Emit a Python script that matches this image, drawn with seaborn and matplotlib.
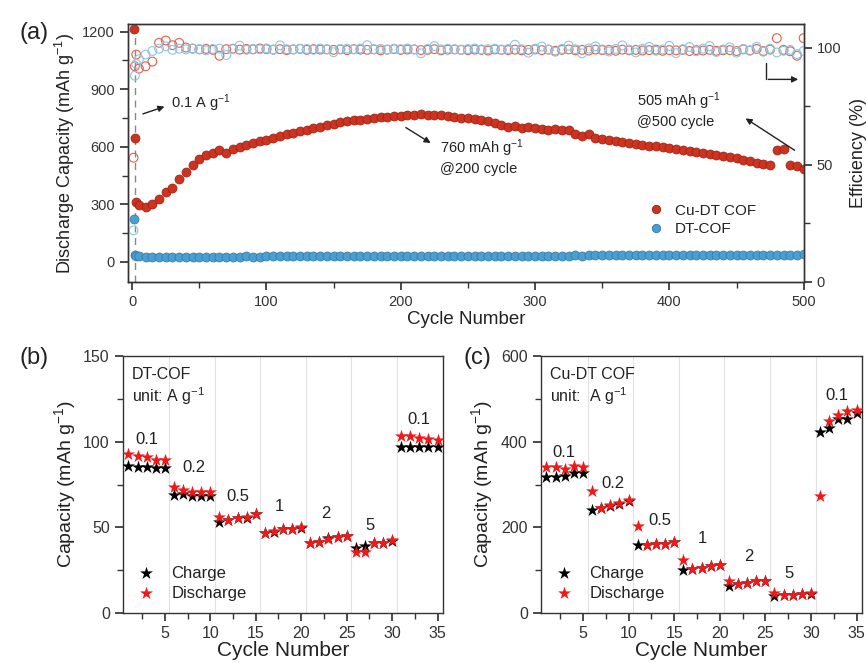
import numpy as np
import matplotlib
matplotlib.use("Agg")
import matplotlib.pyplot as plt
from matplotlib.lines import Line2D
from matplotlib.ticker import MultipleLocator
import pandas as pd
import seaborn as sns

sns.set_theme(style="ticks")
plt.rcParams['font.family'] = ['Liberation Sans', 'DejaVu Sans']
plt.rcParams['mathtext.fontset'] = 'custom'
plt.rcParams['mathtext.rm'] = 'Liberation Sans'
plt.rcParams['mathtext.it'] = 'Liberation Sans:italic'
plt.rcParams['axes.edgecolor'] = '#333333'
plt.rcParams['text.color'] = '#222222'
plt.rcParams['axes.labelcolor'] = '#222222'
plt.rcParams['xtick.color'] = '#333333'
plt.rcParams['ytick.color'] = '#333333'

# ---- panel (a): long cycling at 0.1 A/g ----
cycles = [1, 2, 3] + list(range(5, 501, 5))

cap_cu = [1215, 645, 310,
          295, 285, 300, 330, 365, 385, 430, 470, 505, 535,
          555, 570, 585, 565, 590, 600, 610, 620, 630, 638,
          648, 658, 665, 673, 680, 690, 697, 705, 712, 720,
          727, 733, 738, 742, 746, 750, 753, 757, 760, 762,
          765, 768, 770, 768, 766, 764, 760, 756, 752, 748,
          744, 738, 732, 722, 712, 705, 706, 700, 702, 698,
          695, 690, 692, 688, 685, 665, 655, 668, 648, 640,
          636, 630, 625, 620, 615, 610, 606, 602, 598, 594,
          590, 584, 578, 572, 566, 562, 556, 550, 546, 540,
          532, 524, 516, 512, 506, 585, 590, 505, 500, 485]

cap_dt = [225, 35, 30,
          28, 27, 27, 27, 26, 27, 27, 26, 27, 27,
          27, 27, 27, 27, 27, 27, 28, 27, 27, 28,
          28, 28, 28, 28, 28, 28, 28, 29, 28, 29,
          29, 29, 29, 29, 29, 30, 29, 30, 30, 30,
          30, 30, 30, 31, 30, 31, 31, 31, 31, 31,
          31, 32, 31, 32, 32, 32, 32, 32, 33, 32,
          33, 33, 33, 33, 33, 34, 33, 34, 34, 34,
          34, 34, 35, 34, 35, 35, 35, 35, 35, 36,
          36, 36, 36, 36, 36, 37, 36, 37, 37, 37,
          37, 37, 37, 38, 38, 38, 38, 38, 38, 39]

eff_cu = [53, 92, 97,
          91, 92, 94, 102, 103, 101, 102, 100, 99.5, 99.2,
          99.4, 99.0, 96.5, 99.3, 99.5, 99.1, 99.4, 99.2, 99.6, 99.3,
          99.1, 99.3, 98.9, 99.2, 99.4, 99.0, 99.3, 99.1, 99.2, 99.0,
          99.2, 98.9, 99.3, 99.1, 99.0, 99.2, 98.8, 99.1, 99.3, 99.0,
          99.1, 99.2, 98.9, 99.0, 99.3, 98.8, 99.1, 99.2, 99.0, 98.9,
          99.1, 99.0, 98.7, 99.2, 99.0, 98.9, 99.1, 98.8, 99.0, 99.2,
          98.9, 99.1, 98.6, 99.0, 99.2, 98.8, 99.0, 98.7, 99.1, 98.9,
          99.0, 98.6, 99.1, 98.8, 99.0, 98.7, 98.9, 99.1, 98.6, 98.9,
          98.8, 99.0, 98.5, 98.9, 98.7, 99.0, 98.6, 98.8, 98.9, 98.5,
          99.2, 98.8, 99.4, 98.5, 99.1, 104, 99.0, 98.4, 96.5, 104]

eff_dt = [22, 88, 93,
          95, 97, 98.5, 99.5, 100.5, 99.0, 99.5, 99.2, 99.6, 99.3,
          98.8, 99.4, 99.5, 96.8, 99.3, 100.8, 99.0, 99.4, 99.2, 99.6,
          99.1, 100.9, 99.3, 99.2, 99.5, 99.4, 99.0, 99.6, 99.3, 98.0,
          99.4, 99.5, 99.2, 99.6, 101.0, 99.3, 99.4, 99.1, 99.5, 99.3,
          99.6, 99.2, 97.5, 99.4, 100.6, 99.2, 99.5, 99.3, 99.1, 99.4,
          99.6, 99.2, 99.3, 99.5, 99.1, 99.4, 101.2, 99.3, 97.8, 99.5,
          100.4, 99.1, 98.2, 99.4, 100.8, 99.3, 97.5, 99.6, 100.5, 99.2,
          98.3, 99.4, 100.9, 99.1, 97.9, 99.5, 100.3, 98.6, 99.2, 100.7,
          97.6, 99.3, 100.2, 98.4, 99.5, 100.6, 98.1, 99.2, 100.1, 97.8,
          99.4, 98.6, 100.3, 98.2, 99.5, 97.9, 98.6, 99.0, 97.2, 98.5]

# ---- panels (b), (c): rate performance ----
rate_cycles = list(range(1, 36))
rate_labels = ['0.1', '0.2', '0.5', '1', '2', '5', '0.1']

dt_charge = [85.8, 85.4, 85.4, 84.4, 84.4,
             68.9, 69.3, 68.5, 68.5, 68.5,
             53.4, 54.3, 55.3, 55.7, 57.6,
             46.6, 47.5, 48.9, 48.9, 49.9,
             40.7, 41.7, 43.7, 44.2, 45.0,
             37.8, 39.2, 40.7, 41.1, 42.3,
             96.8, 96.8, 96.8, 96.8, 96.8]
dt_discharge = [93.1, 91.8, 91.2, 89.6, 89.6,
                73.7, 71.8, 70.4, 70.4, 70.4,
                55.9, 54.3, 55.7, 55.9, 57.8,
                46.6, 48.1, 49.1, 49.1, 50.1,
                40.7, 41.7, 43.1, 44.2, 45.0,
                35.9, 35.9, 40.7, 41.1, 42.7,
                103.4, 103.4, 102.4, 101.5, 100.9]

cu_charge = [318, 318, 321, 328, 328,
             241, 245, 250, 254, 262,
             158, 159, 161, 161, 165,
             101, 103, 106, 109, 111,
             64, 68, 70, 74, 74,
             40, 41, 43, 45, 45,
             423, 431, 454, 454, 467]
cu_discharge = [342, 342, 336, 344, 342,
                285, 245, 252, 256, 264,
                202, 159, 161, 161, 165,
                123, 103, 106, 109, 113,
                75, 68, 70, 74, 74,
                47, 43, 43, 45, 47,
                274, 448, 462, 471, 475]

df_a = pd.DataFrame({'cycle': cycles, 'cap_cu': cap_cu, 'cap_dt': cap_dt,
                     'eff_cu': eff_cu, 'eff_dt': eff_dt})

red_f, red_e = '#CC3320', '#9A200E'
blue_f, blue_e = '#4A9ED0', '#2F78A8'
red_o, blue_o = '#E2604E', '#8CC6E4'

fig = plt.figure(figsize=(8.66, 6.63), dpi=100)
ax_a = fig.add_axes([0.148, 0.5747, 0.780, 0.389])
ax_b = fig.add_axes([0.142, 0.0754, 0.3695, 0.3876])
ax_c = fig.add_axes([0.6247, 0.0754, 0.3707, 0.3876])

# panel (a)
ax_a.axvline(2.3, color='#888888', lw=1, ls=(0, (5, 4)), zorder=1)
sns.scatterplot(data=df_a, x='cycle', y='cap_cu', ax=ax_a, color=red_f,
                edgecolor=red_e, linewidth=0.5, s=42, zorder=3)
sns.scatterplot(data=df_a, x='cycle', y='cap_dt', ax=ax_a, color=blue_f,
                edgecolor=blue_e, linewidth=0.5, s=42, zorder=3)
ax_a.set_xlim(-3, 500)
ax_a.set_ylim(-105, 1240)
ax_a.set_yticks([0, 300, 600, 900, 1200])
ax_a.yaxis.set_minor_locator(MultipleLocator(150))
ax_a.set_xticks([0, 100, 200, 300, 400, 500])
ax_a.xaxis.set_minor_locator(MultipleLocator(50))
ax_a.set_xlabel('Cycle Number', fontsize=13.5, labelpad=1)
ax_a.set_ylabel('Discharge Capacity (mAh g$^{-1}$)', fontsize=13, labelpad=4)
ax_a.tick_params(labelsize=10.5)

ax_e = ax_a.twinx()
sns.scatterplot(data=df_a, x='cycle', y='eff_cu', ax=ax_e, color=red_o,
                edgecolor=red_o, linewidth=0.8, s=40)
ax_e.collections[-1].set_facecolor('none')
sns.scatterplot(data=df_a, x='cycle', y='eff_dt', ax=ax_e, color=blue_o,
                edgecolor=blue_o, linewidth=0.8, s=40)
ax_e.collections[-1].set_facecolor('none')
ax_e.set_ylim(0, 110)
ax_e.set_yticks([0, 50, 100])
ax_e.yaxis.set_minor_locator(MultipleLocator(25))
ax_e.set_ylabel('Efficiency (%)', fontsize=13, labelpad=6)
ax_e.tick_params(labelsize=10.5)
ax_e.set_xlim(-3, 500)

arrow_kw = dict(arrowstyle='-|>', color='#222222', lw=1, mutation_scale=9)
ax_a.annotate('', xy=(26, 814), xytext=(6, 767), arrowprops=arrow_kw)
ax_a.text(29, 828, '0.1 A g$^{-1}$', fontsize=10.5, va='center')
ax_a.annotate('', xy=(224, 612), xytext=(202, 708), arrowprops=arrow_kw)
ax_a.text(229, 548, '760 mAh g$^{-1}$\n@200 cycle', fontsize=10.5,
          va='center', linespacing=1.25)
ax_a.annotate('', xy=(455, 756), xytext=(495, 574), arrowprops=arrow_kw)
ax_a.text(376, 793, '505 mAh g$^{-1}$\n@500 cycle', fontsize=10.5,
          va='center', linespacing=1.25)
ax_e.plot([472, 472], [93.6, 86.4], color='#222222', lw=1)
ax_e.annotate('', xy=(498, 86.4), xytext=(471.6, 86.4), arrowprops=arrow_kw)

leg_a = [Line2D([], [], marker='o', ls='', ms=6, mfc=red_f, mec=red_e, mew=0.6,
                label='Cu-DT COF'),
         Line2D([], [], marker='o', ls='', ms=6, mfc=blue_f, mec=blue_e, mew=0.6,
                label='DT-COF')]
ax_a.legend(handles=leg_a, loc='center left', bbox_to_anchor=(0.748, 0.24),
            frameon=False, fontsize=11, handletextpad=0.6, handlelength=1.2,
            labelspacing=0.3)

# panels (b) and (c)
df_b = pd.DataFrame({'cycle': rate_cycles, 'charge': dt_charge, 'discharge': dt_discharge})
df_c = pd.DataFrame({'cycle': rate_cycles, 'charge': cu_charge, 'discharge': cu_discharge})

def rate_panel(ax, df, ymax, ystep, title, unit, label_pos):
    for xv in [5.5, 10.5, 15.5, 20.5, 25.5, 30.5]:
        ax.axvline(xv, color='#e2e2e2', lw=0.8, zorder=0)
    sns.scatterplot(data=df, x='cycle', y='charge', ax=ax, marker='*', color='black',
                    s=95, linewidth=0, label='Charge', zorder=3)
    sns.scatterplot(data=df, x='cycle', y='discharge', ax=ax, marker='*', color='#F01818',
                    s=95, linewidth=0, label='Discharge', zorder=4)
    ax.set_xlim(0.4, 35.6)
    ax.set_ylim(0, ymax)
    ax.set_xticks([5, 10, 15, 20, 25, 30, 35])
    ax.xaxis.set_minor_locator(MultipleLocator(2.5))
    ax.set_yticks(np.arange(0, ymax + 1, ystep))
    ax.yaxis.set_minor_locator(MultipleLocator(ystep / 2))
    ax.tick_params(labelsize=11.5)
    ax.set_xlabel('Cycle Number', fontsize=15, labelpad=0)
    ax.set_ylabel('Capacity (mAh g$^{-1}$)', fontsize=14, labelpad=4)
    ax.text(1.4, ymax * 0.927, title, fontsize=11.5, va='center')
    ax.text(1.4, ymax * 0.845, unit, fontsize=11.5, va='center')
    for lab, (xv, yv) in zip(rate_labels, label_pos):
        ax.text(xv, yv, lab, fontsize=12, ha='center', va='center')
    ax.legend(loc='lower left', bbox_to_anchor=(0.0, -0.01), frameon=False,
              fontsize=12, handletextpad=1.0, handlelength=1.0,
              labelspacing=0.3, markerscale=1.0)

rate_panel(ax_b, df_b, 150, 50, 'DT-COF', 'unit: A g$^{-1}$',
           [(3, 101), (8.2, 85), (13, 68), (17.6, 62), (22.7, 58), (27.6, 51), (33, 113)])
rate_panel(ax_c, df_c, 600, 200, 'Cu-DT COF', 'unit:  A g$^{-1}$',
           [(2.9, 374), (8.3, 303), (13.4, 217), (18.1, 175), (23.2, 133), (27.6, 93), (32.8, 509)])

for ax in (ax_a, ax_e, ax_b, ax_c):
    for sp in ax.spines.values():
        sp.set_visible(True)
        sp.set_linewidth(1.0)

fig.text(0.022, 0.95, '(a)', fontsize=17, va='center')
fig.text(0.022, 0.46, '(b)', fontsize=17, va='center')
fig.text(0.535, 0.46, '(c)', fontsize=17, va='center')

fig.savefig('out.png', dpi=100)
